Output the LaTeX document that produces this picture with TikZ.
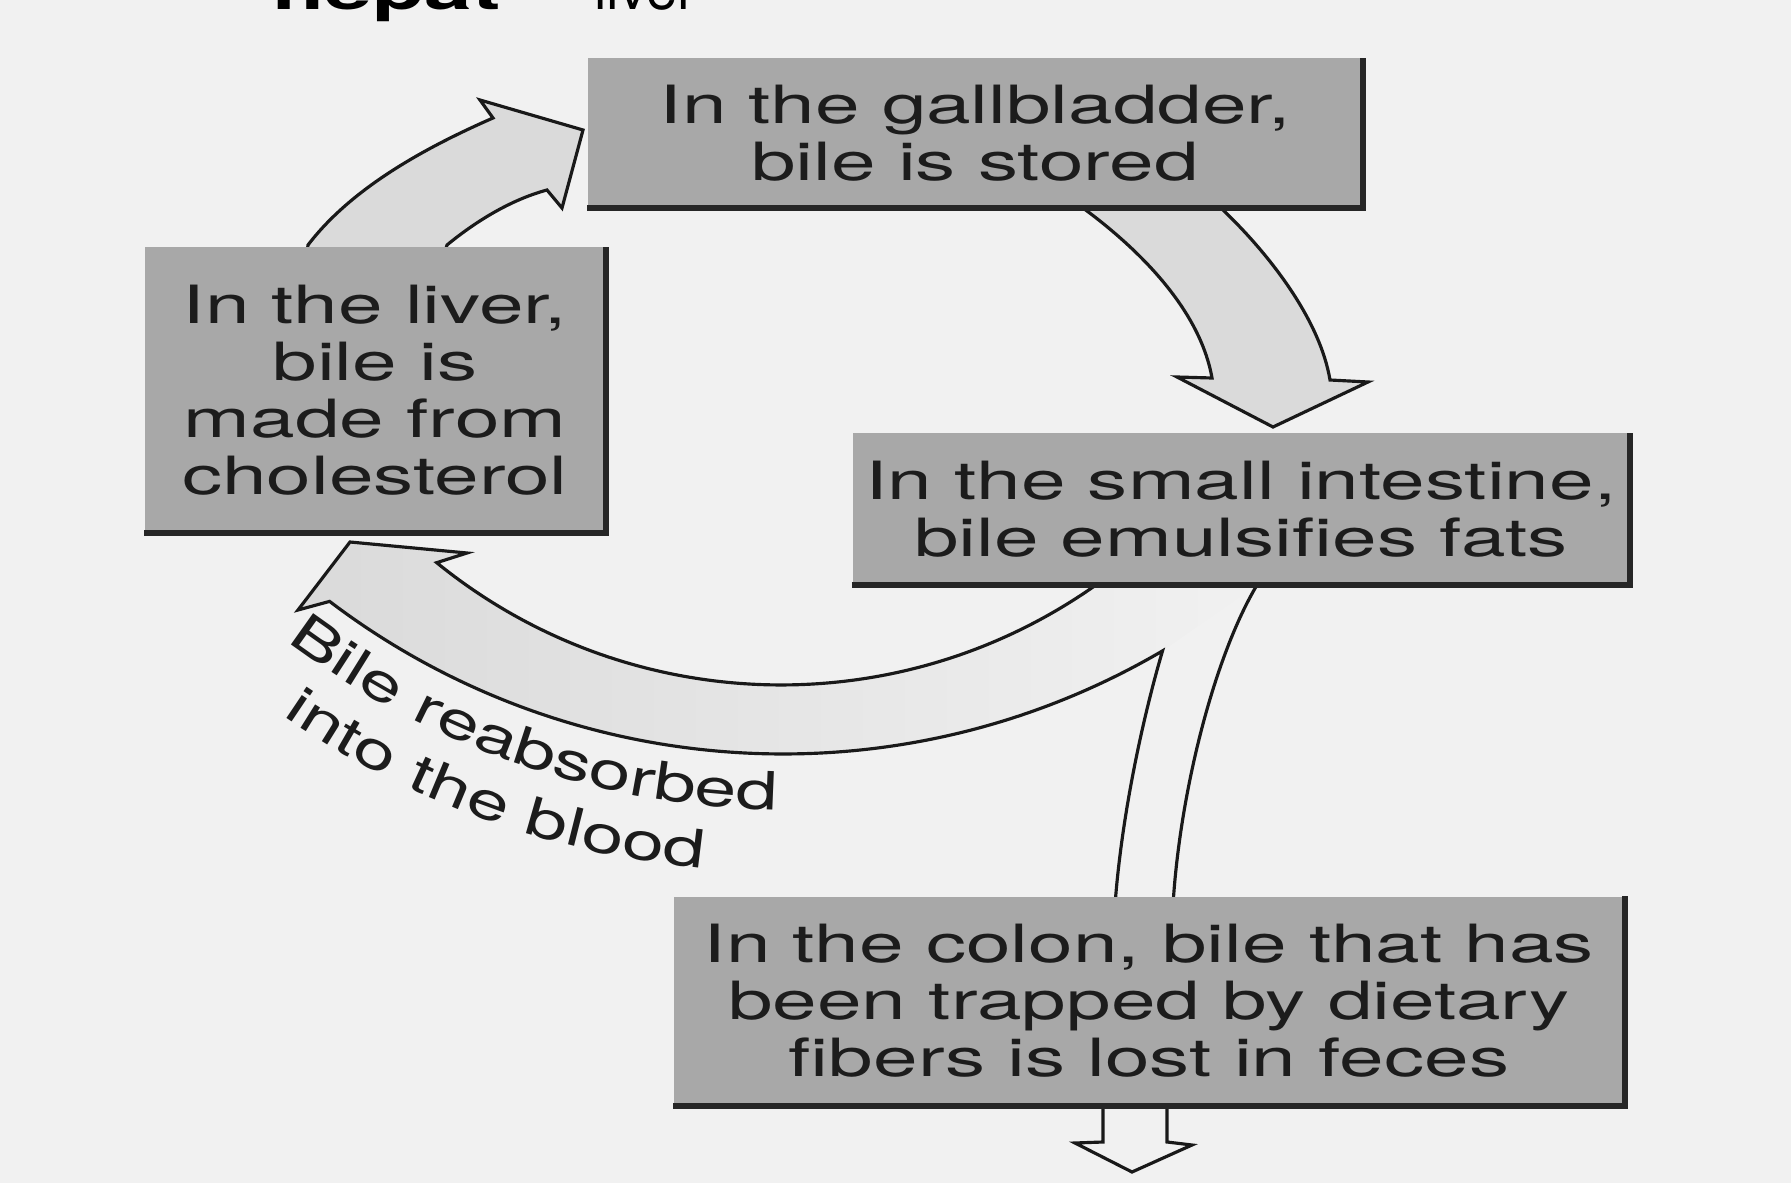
\documentclass[tikz,border=0pt]{standalone}
\usepackage{fontspec}
\setmainfont{TeX Gyre Heros}[FakeStretch=1.52]
\newfontfamily\arcfont{TeX Gyre Heros}[FakeStretch=1.43]
\newfontfamily\plainfont{TeX Gyre Heros}
\usetikzlibrary{calc}
\usetikzlibrary{decorations.text}

\definecolor{paper}{RGB}{241,241,241}
\definecolor{boxgray}{RGB}{168,168,168}
\definecolor{arrowgray}{RGB}{218,218,218}
\definecolor{inkgray}{RGB}{28,28,28}

\newcommand{\boxfont}{\fontsize{15}{16.2}\selectfont}

\tikzset{
  stepbox/.style={fill=boxgray, inner sep=0pt, align=center, font=\boxfont, text=inkgray},
  boxshadow/.style={draw=black!85, line width=1.8pt},
  blockarrow/.style={draw=black!90, line width=0.9pt, line join=miter, fill=arrowgray},
  flowline/.style={draw=black!90, line width=0.9pt},
}

\begin{document}
\begin{tikzpicture}[x=0.1mm, y=-0.1mm]
            \path[use as bounding box, fill=paper] (0,0) rectangle (1791,1183);
            \coordinate (bend) at (791,-27);

            % cut off heading
            \node[anchor=base west, inner sep=0pt, font=\fontsize{16}{18}\selectfont] (hepat) at (272,10) {\textbf{hepat}};
            \node[anchor=base east, inner sep=0pt, font=\plainfont\fontsize{16}{18}\selectfont] (liverword) at (697,10) {liver};

            % liver to gallbladder
            \filldraw[blockarrow] (306,262) -- (308,245) .. controls (350,190) and (420,150) .. (493,118)
                -- (480,100) -- (583,130) -- (562,208) -- (547,190)
                .. controls (510,200) and (475,222) .. (447,245) -- (442,262) -- cycle;
            % gallbladder to small intestine
            \filldraw[blockarrow] (1080,198) -- (1083,208) .. controls (1140,250) and (1200,310) .. (1212,378)
                -- (1177,377) -- (1273,427) -- (1368,382) -- (1330,380)
                .. controls (1320,320) and (1270,255) .. (1223,210) -- (1220,198) -- cycle;

            % small intestine back to liver
            \shade[left color=arrowgray, right color=paper] (1104,570) -- (1100.4,581.8)
                arc[start angle=54.2, end angle=129.1, radius=546]
                -- (467,553) -- (350,542) -- (298,610) -- (329.6,601.4)
                arc[start angle=127.2, end angle=59.6, radius=750]
                -- (1257,585) -- (1260,570) -- cycle;
            \fill[paper] (1162.6,650.9) .. controls (1145,710) and (1122,810) .. (1115,905)
                -- (1173,905) .. controls (1180,790) and (1215,655) .. (1257,585) -- cycle;
            \draw[flowline, line join=miter] (1104,570) -- (1100.4,581.8)
                arc[start angle=54.2, end angle=129.1, radius=546]
                -- (467,553) -- (350,542) -- (298,610) -- (329.6,601.4)
                arc[start angle=127.2, end angle=59.6, radius=750]
                .. controls (1145,710) and (1122,810) .. (1115,905);
            \draw[flowline] (1260,575) -- (1257,585) .. controls (1215,655) and (1180,790) .. (1173,905);

            % out of the colon
            \filldraw[blockarrow, fill=paper] (1103,1095) -- (1103,1142) -- (1075,1143) -- (1132,1172)
                -- (1192,1145) -- (1167,1142) -- (1167,1095);

            % the four steps
            \node[stepbox, minimum width=77.4mm, minimum height=14.9mm] (gall) at (975,133) {In the gallbladder,\\bile is stored};
            \node[stepbox, minimum width=46mm, minimum height=28.5mm] (liver) at (375,390) {In the liver,\\bile is\\made from\\cholesterol};
            \node[stepbox, minimum width=77.7mm, minimum height=15.1mm] (small) at (1241,509) {In the small intestine,\\bile emulsifies fats};
            \node[stepbox, minimum width=95mm, minimum height=20.9mm] (colon) at (1149,1001) {In the colon, bile that has\\been trapped by dietary\\fibers is lost in feces};
            \foreach \b in {gall,liver,small,colon}
              \draw[boxshadow] (\b.south west) -- (\b.south east) -- (\b.north east);

            % label along the return arrow
            \path[decorate, decoration={text along path, text align=center,
                text={|\arcfont\boxfont\color{inkgray}|Bile reabsorbed}}]
                ($(bend)+(129:837)$) arc[start angle=129, end angle=89, radius=837];
            \path[decorate, decoration={text along path, text align=center,
                text={|\arcfont\boxfont\color{inkgray}|into the blood}}]
                ($(bend)+(130:900)$) arc[start angle=130, end angle=90, radius=900];
        \end{tikzpicture}
\end{document}
